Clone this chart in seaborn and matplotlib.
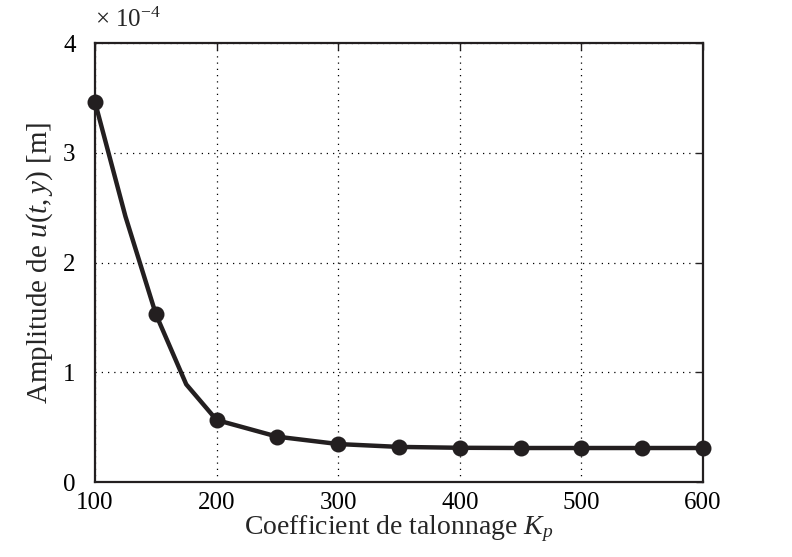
import matplotlib
matplotlib.use("Agg")
import matplotlib.pyplot as plt
import seaborn as sns
import pandas as pd

# amplitude values in units of 1e-4 m
kp_line = [100, 125, 150, 175, 200, 250, 300, 350, 400, 450, 500, 550, 600]
amp_line = [3.46, 2.42, 1.53, 0.89, 0.565, 0.413, 0.346, 0.320, 0.312, 0.310, 0.310, 0.310, 0.310]
kp_marks = [100, 150, 200, 250, 300, 350, 400, 450, 500, 550, 600]
amp_marks = [3.46, 1.53, 0.565, 0.413, 0.346, 0.320, 0.312, 0.310, 0.310, 0.310, 0.310]
x_ticks = [100, 200, 300, 400, 500, 600]
y_ticks = [0, 1, 2, 3, 4]

COL = "#231f20"

sns.set_style("white")
plt.rcParams["font.family"] = ["Liberation Serif", "DejaVu Serif"]
plt.rcParams["mathtext.fontset"] = "custom"
plt.rcParams["mathtext.rm"] = "Liberation Serif"
plt.rcParams["mathtext.it"] = "Liberation Serif:italic"

fig = plt.figure(figsize=(7.92, 5.57), dpi=100)
ax = fig.add_axes([0.12, 0.1346, 0.7676, 0.7882])

df_line = pd.DataFrame({"Kp": kp_line, "amp": amp_line})
df_marks = pd.DataFrame({"Kp": kp_marks, "amp": amp_marks})
sns.lineplot(data=df_line, x="Kp", y="amp", ax=ax, color=COL, linewidth=3.2, zorder=3)
sns.scatterplot(data=df_marks, x="Kp", y="amp", ax=ax, color=COL, s=100,
                edgecolor=COL, linewidth=1.5, zorder=4, clip_on=False)

ax.set_xlim(100, 600)
ax.set_ylim(0, 4)
ax.set_xticks(x_ticks)
ax.set_yticks(y_ticks)
ax.grid(True, linestyle=(0, (1, 4)), color="black", linewidth=0.9)
for s in ax.spines.values():
    s.set_color(COL)
    s.set_linewidth(1.6)
ax.tick_params(direction="in", length=5, width=1, labelsize=18, colors=COL,
               top=True, right=True)
ax.tick_params(axis="y", pad=14)
ax.tick_params(axis="x", pad=7)
for lab in ax.get_xticklabels() + ax.get_yticklabels():
    lab.set_color("black")

ax.set_xlabel("Coefficient de talonnage $K_p$", fontsize=20, labelpad=0)
ax.set_ylabel("Amplitude de $u(t,y)$ [m]", fontsize=21, labelpad=6)
ax.text(0.0, 1.025, r"$\times$ 10$^{-4}$", transform=ax.transAxes, fontsize=18,
        ha="left", va="bottom")

fig.savefig("out.png", dpi=100)
